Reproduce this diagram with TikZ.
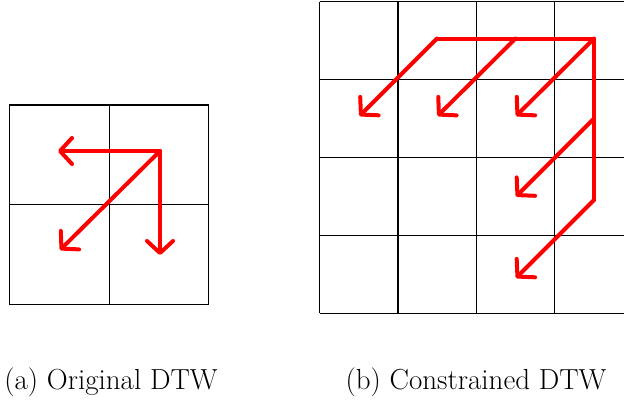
\documentclass[tikz,border=0pt]{standalone}
\usetikzlibrary{arrows.meta}
\begin{document}
\begin{tikzpicture}[x=1pt,y=-1pt,
  gridline/.style={line width=1.2pt,black},
  redline/.style={line width=4pt,red,line cap=round,line join=round},
  redarr/.style={redline,-{Straight Barb[length=12pt,width=26pt,line width=4pt,round]}},
  captext/.style={anchor=base,inner sep=0pt,font=\fontsize{29}{33}\selectfont}]
\useasboundingbox (0,0) rectangle (624,400);
\begin{scope}
\clip (0,0) rectangle (624,400);
% left grid
\draw[gridline] (9.5,105) rectangle (208.7,304.2);
\draw[gridline] (109.1,105) -- (109.1,304.2);
\draw[gridline] (9.5,204.6) -- (208.7,204.6);
% right grid
\foreach \i in {0,...,4} {
  \draw[gridline] (319.5+78.4*\i,1.5) -- (319.5+78.4*\i,313.1);
  \draw[gridline] (319.5,1.5+77.9*\i) -- (633,1.5+77.9*\i);
}
\end{scope}
% left arrows
\coordinate (c) at (160,151);
\coordinate (l) at (58,151);
\coordinate (d) at (160,255);
\coordinate (dl) at (60,250);
\draw[redarr] (c) -- (l);
\draw[redarr] (c) -- (d);
\draw[redarr] (c) -- (dl);
% right arrows
\coordinate (h1) at (437,38.5);
\coordinate (h2) at (515.5,38.5);
\coordinate (h3) at (594,38.5);
\coordinate (v1) at (594,118.5);
\coordinate (v2) at (594,200);
\coordinate (t1) at (359.5,116);
\coordinate (t2) at (437.5,116);
\coordinate (t3) at (516,116);
\coordinate (t4) at (516,196.5);
\coordinate (t5) at (516,278);
\draw[redline] (h1) -- (h3) -- (v2);
\draw[redarr] (h1) -- (t1);
\draw[redarr] (h2) -- (t2);
\draw[redarr] (h3) -- (t3);
\draw[redarr] (v1) -- (t4);
\draw[redarr] (v2) -- (t5);
% captions
\node[captext] (ca) at (111,389) {(a) Original DTW};
\node[captext] (cb) at (476,389) {(b) Constrained DTW};
\end{tikzpicture}
\end{document}
